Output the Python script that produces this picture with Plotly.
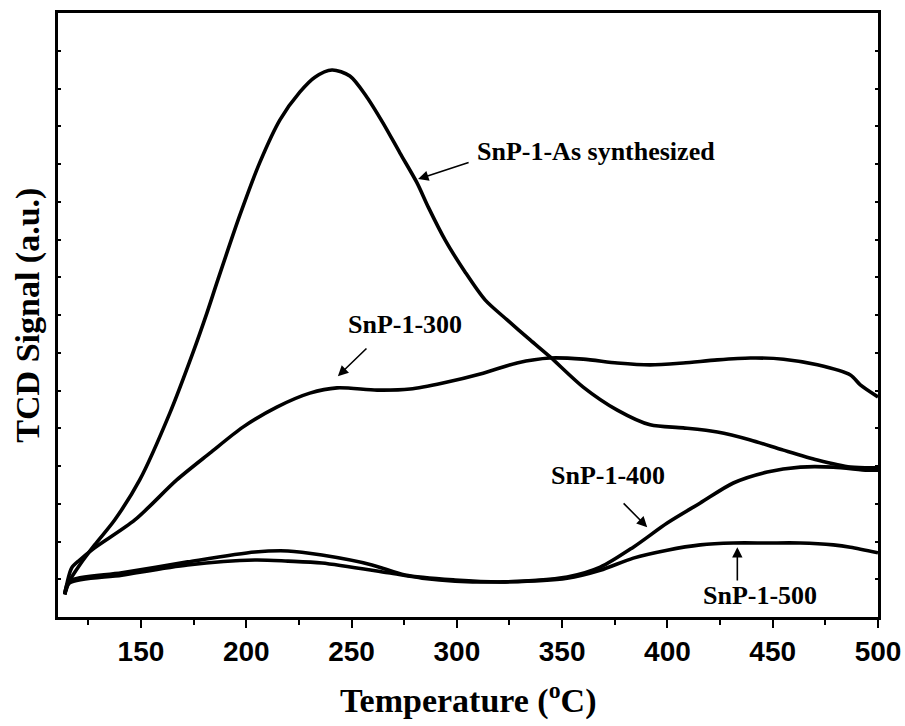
import plotly.graph_objects as go

# Temperature (°C) and TCD signal (a.u.)
t_as = [113.8, 116.0, 120.9, 128.0, 137.5, 149.4, 163.7, 174.6, 181.3, 186.5, 197.0, 206.5, 216.0, 225.5,
        232.6, 240.7, 249.2, 257.3, 264.9, 273.0, 281.1, 286.5, 294.4, 303.9, 313.4, 323.9, 334.8, 344.3,
        360.0, 376.2, 391.8, 407.5, 423.7, 439.4, 455.1, 471.2, 486.9, 500.0]
s_as = [0.60, 0.95, 1.38, 1.91, 2.57, 3.63, 5.40, 6.99, 8.05, 8.93, 10.65, 12.05, 13.17, 13.91,
        14.30, 14.49, 14.33, 13.77, 13.09, 12.29, 11.50, 10.85, 9.99, 9.14, 8.40, 7.87, 7.34, 6.89,
        6.09, 5.48, 5.09, 5.01, 4.90, 4.69, 4.42, 4.16, 3.97, 3.95]

t_300 = [113.8, 117.1, 120.9, 128.0, 147.1, 167.0, 182.7, 198.4, 214.5, 230.2, 243.1, 262.1, 277.8,
         293.4, 312.5, 328.6, 344.3, 360.0, 376.2, 391.8, 407.5, 423.7, 439.4, 455.1, 471.2, 486.9,
         491.6, 500.0]
s_300 = [0.60, 1.30, 1.51, 1.83, 2.57, 3.63, 4.34, 5.03, 5.56, 5.93, 6.07, 6.01, 6.04,
         6.20, 6.46, 6.73, 6.86, 6.83, 6.73, 6.68, 6.73, 6.81, 6.86, 6.83, 6.68, 6.41,
         6.15, 5.83]

t_400 = [113.8, 116.0, 140.9, 172.2, 204.1, 219.8, 235.9, 259.7, 275.4, 299.2, 322.9, 352.4, 368.1,
         383.8, 399.9, 415.6, 431.3, 447.4, 463.1, 478.8, 495.0, 500.0]
s_400 = [0.60, 0.95, 1.17, 1.46, 1.72, 1.75, 1.64, 1.38, 1.11, 0.98, 0.93, 1.06, 1.32,
         1.85, 2.49, 3.02, 3.55, 3.84, 3.97, 3.97, 3.89, 3.89]

t_500 = [113.8, 116.0, 140.9, 172.2, 204.1, 219.8, 235.9, 267.3, 283.5, 299.2, 322.9, 352.4, 368.1,
         383.8, 399.9, 415.6, 431.3, 447.4, 463.1, 478.8, 486.9, 500.0]
s_500 = [0.60, 0.90, 1.11, 1.38, 1.51, 1.48, 1.43, 1.17, 1.03, 0.95, 0.93, 1.03, 1.24,
         1.56, 1.77, 1.91, 1.96, 1.96, 1.96, 1.91, 1.85, 1.70]

x_ticks = [150, 200, 250, 300, 350, 400, 450, 500]
x_minor = [125, 175, 225, 275, 325, 375, 425, 475]

series = [("SnP-1-As synthesized", t_as, s_as), ("SnP-1-300", t_300, s_300),
          ("SnP-1-400", t_400, s_400), ("SnP-1-500", t_500, s_500)]

fig = go.Figure()
for name, xs, ys in series:
    fig.add_trace(go.Scatter(x=xs, y=ys, mode="lines", name=name,
                             line=dict(color="black", width=3.6, shape="spline", smoothing=0.8)))

serif = dict(family="Liberation Serif, Times New Roman, serif", color="black", size=26, weight="bold")

labels = [("SnP-1-As synthesized", 366.2, 12.32), ("SnP-1-300", 275.4, 7.76),
          ("SnP-1-400", 371.9, 3.76), ("SnP-1-500", 444.1, 0.58)]
for txt, x, y in labels:
    fig.add_annotation(x=x, y=y, text=txt, showarrow=False, font=serif, xanchor="center", yanchor="middle")

arrows = [(306.3, 12.05, 281.6, 11.60), (257.8, 7.15, 243.5, 6.38),
          (378.5, 3.05, 390.4, 2.38), (433.2, 0.93, 433.2, 1.85)]
for ax, ay, x, y in arrows:
    fig.add_annotation(x=x, y=y, ax=ax, ay=ay, xref="x", yref="y", axref="x", ayref="y",
                       text="", showarrow=True, arrowhead=2, arrowsize=1.3, arrowwidth=1.6,
                       arrowcolor="black")

title_font = dict(family="Liberation Serif, Times New Roman, serif", color="black", size=34, weight="bold")
fig.add_annotation(xref="paper", yref="paper", x=0.5, y=-0.135, text="Temperature (<sup>o</sup>C)",
                   showarrow=False, font=title_font, xanchor="center", yanchor="middle")
fig.add_annotation(xref="paper", yref="paper", x=-0.037, y=0.5, text="TCD Signal (a.u.)", textangle=-90,
                   showarrow=False, font=title_font, xanchor="center", yanchor="middle")

fig.update_layout(
    template="none",
    width=905, height=726, autosize=False,
    margin=dict(l=58, r=27, t=13, b=109, pad=0),
    paper_bgcolor="white", plot_bgcolor="white",
    showlegend=False,
    xaxis=dict(range=[110.6, 500], tickvals=x_ticks, ticktext=[str(v) for v in x_ticks],
               automargin=False,
               ticks="outside", ticklen=8, tickwidth=2, tickcolor="black",
               minor=dict(ticks="outside", ticklen=5, tickwidth=2, tickcolor="black", tickvals=x_minor),
               showline=True, linewidth=2.5, linecolor="black", mirror=True,
               showgrid=False, zeroline=False,
               tickfont=dict(family="Liberation Sans, Arial, sans-serif", size=28, color="black",
                             weight="bold")),
    yaxis=dict(range=[0, 16], dtick=1, tick0=0, showticklabels=False, automargin=False,
               ticks="inside", ticklen=3, tickwidth=1.5, tickcolor="black",
               showline=True, linewidth=2.5, linecolor="black", mirror="ticks",
               showgrid=False, zeroline=False),
)

fig.write_html("out.html", config={"displayModeBar": False},
               post_script="document.body.style.margin='0px';document.body.style.overflow='hidden';")
